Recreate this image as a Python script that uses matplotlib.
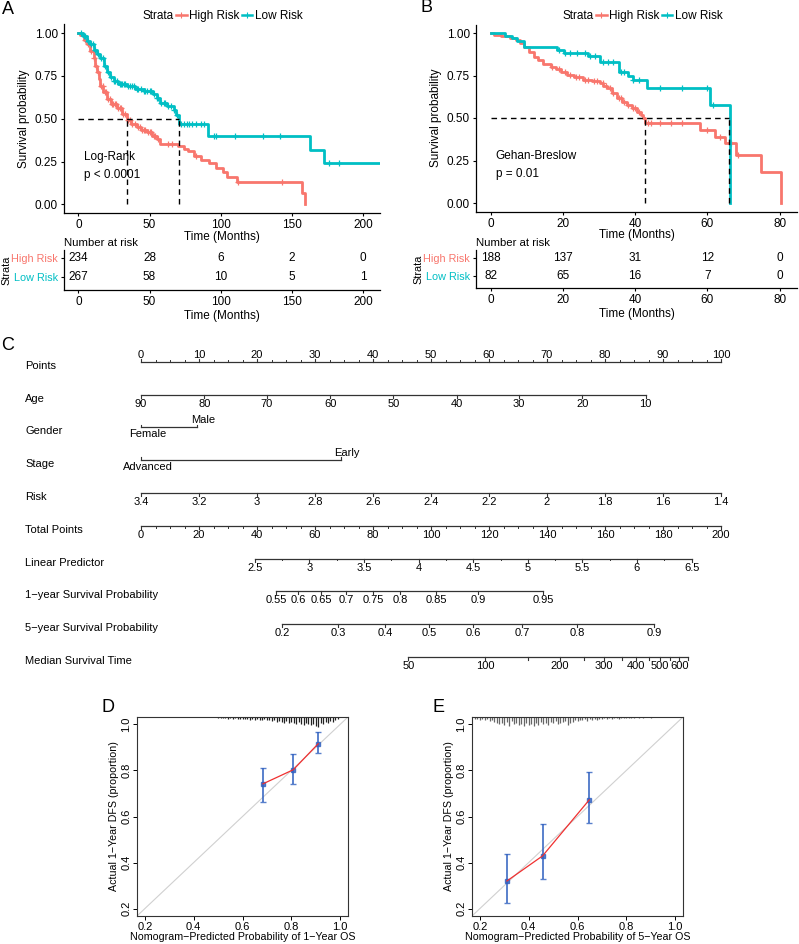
import numpy as np
import matplotlib
matplotlib.use("Agg")
import matplotlib.pyplot as plt
from matplotlib.lines import Line2D

plt.rcParams['font.family'] = ['Liberation Sans', 'DejaVu Sans']
plt.rcParams['font.size'] = 8

RED = '#F8766D'
TEAL = '#00BFC4'

# ---------------- data: panel A (KM, overall) ----------------
a_high_t = [0, 1.4, 4, 6.1, 8.5, 10.8, 12, 13.1, 14.2, 15.4, 17.5, 20.1, 23, 27.2, 31,
            34.2, 37, 41.2, 44, 48.2, 52, 55.2, 57.5, 70, 74, 77, 81, 86, 91.8, 97,
            102, 104.3, 111.4, 157, 159.5]
a_high_s = [1, 0.99, 0.96, 0.934, 0.895, 0.853, 0.81, 0.773, 0.73, 0.693, 0.655, 0.613,
            0.585, 0.562, 0.53, 0.495, 0.47, 0.452, 0.435, 0.422, 0.40, 0.381, 0.351,
            0.342, 0.325, 0.31, 0.281, 0.262, 0.241, 0.215, 0.19, 0.16, 0.131, 0.065, 0.0]
a_high_cens = [3, 5, 7, 9, 11, 12.5, 14, 16, 17, 18.5, 19.5, 21, 22, 23.5, 24.5, 25.5,
               26.5, 28, 29, 30, 31.5, 33, 35, 36, 38, 39.5, 42, 43, 45, 46, 47, 49, 50,
               51, 53, 54, 56, 63, 66, 83, 112, 143]
a_low_t = [0, 3, 6, 8.4, 11, 13, 15.4, 18, 20.1, 22, 24.8, 28, 34.2, 40, 45.8, 52.8, 55,
           57.5, 62, 66.9, 68.5, 70.4, 91.4, 162.8, 172.6, 212]
a_low_s = [1, 0.98, 0.955, 0.934, 0.90, 0.875, 0.853, 0.81, 0.773, 0.745, 0.723, 0.705,
           0.693, 0.675, 0.663, 0.643, 0.62, 0.592, 0.575, 0.552, 0.52, 0.472, 0.402,
           0.32, 0.241, 0.241]
a_low_cens = [2, 4, 5, 7, 9, 10, 12, 14, 16, 17, 19, 21, 23, 25, 26, 27, 29, 30, 31, 32,
              33, 35, 36, 38, 39, 41, 42, 44, 46, 47, 48, 50, 51, 53, 55, 56, 58, 60, 61,
              63, 65, 67, 69, 72, 74, 76, 78, 80, 83, 86, 88, 95, 97, 110, 130, 142, 176, 183]
a_medians = [34.2, 70.4]
a_risk_times = [0, 50, 100, 150, 200]
a_risk_high = [234, 28, 6, 2, 0]
a_risk_low = [267, 58, 10, 5, 1]

# ---------------- data: panel B (KM, validation) ----------------
b_high_t = [0, 1, 2.8, 5.5, 7, 8, 9.2, 10.5, 11.9, 13, 14.5, 16.6, 18, 19.5, 21.1, 23,
            25.7, 28, 30.3, 31.2, 32.2, 33.5, 35, 36.5, 37.7, 39, 40.5, 41.5, 42.3, 42.7,
            57.9, 62.1, 64.8, 68, 74.9, 80.5]
b_high_s = [1, 0.99, 0.98, 0.97, 0.96, 0.94, 0.92, 0.89, 0.86, 0.84, 0.82, 0.80, 0.79,
            0.77, 0.753, 0.74, 0.724, 0.715, 0.704, 0.69, 0.675, 0.65, 0.616, 0.595,
            0.576, 0.56, 0.537, 0.515, 0.498, 0.469, 0.43, 0.39, 0.351, 0.282, 0.184, 0.0]
b_high_cens = [17, 19, 20.5, 22, 23.5, 24.5, 26, 27, 28.5, 29.5, 31, 32, 33, 34, 35.5,
               36, 37, 38, 39.5, 40, 41, 43.5, 44.5, 47, 50, 53, 60, 63.5, 66.5, 68.5]
b_low_t = [0, 4.1, 6.0, 7.4, 9.2, 18.4, 20.2, 27, 30.3, 35.5, 38, 39.5, 43.2, 60.7, 66.2]
b_low_s = [1, 0.985, 0.97, 0.955, 0.919, 0.90, 0.88, 0.865, 0.83, 0.772, 0.745, 0.724,
           0.675, 0.576, 0.0]
b_low_cens = [19, 20.5, 22, 24, 26, 27.5, 29, 31, 32.5, 34, 36, 37, 39.5, 41, 47, 53,
              60, 61.5]
b_medians = [42.6, 66.0]
b_risk_times = [0, 20, 40, 60, 80]
b_risk_high = [188, 137, 31, 12, 0]
b_risk_low = [82, 65, 16, 7, 0]

# ---------------- data: panel C (nomogram) ----------------
nomo_labels = ['Points', 'Age', 'Gender', 'Stage', 'Risk', 'Total Points',
               'Linear Predictor', '1\u2212year Survival Probability',
               '5\u2212year Survival Probability', 'Median Survival Time']
points_ticks = [0, 10, 20, 30, 40, 50, 60, 70, 80, 90, 100]
age_ticks = [90, 80, 70, 60, 50, 40, 30, 20, 10]
age_points = [0, 10.9, 21.7, 32.6, 43.5, 54.4, 65.2, 76.1, 87.0]
gender_levels = ['Female', 'Male']
gender_points = [0, 9.7]
stage_levels = ['Advanced', 'Early']
stage_points = [0, 34.5]
risk_ticks = [3.4, 3.2, 3, 2.8, 2.6, 2.4, 2.2, 2, 1.8, 1.6, 1.4]
risk_points = [0, 10, 20, 30, 40, 50, 60, 70, 80, 90, 100]
total_ticks = [0, 20, 40, 60, 80, 100, 120, 140, 160, 180, 200]
lp_ticks = [2.5, 3, 3.5, 4, 4.5, 5, 5.5, 6, 6.5]
lp_total = [39.3, 58.1, 76.9, 95.8, 114.6, 133.4, 152.2, 171.0, 189.9]
surv1_ticks = [0.55, 0.6, 0.65, 0.7, 0.75, 0.8, 0.85, 0.9, 0.95]
surv1_total = [46.6, 54.1, 62.1, 70.7, 80.0, 89.3, 101.7, 116.2, 138.6]
surv5_ticks = [0.2, 0.3, 0.4, 0.5, 0.6, 0.7, 0.8, 0.9]
surv5_total = [48.6, 67.9, 84.1, 99.3, 114.5, 131.4, 150.3, 176.9]
med_ticks = [50, 100, 150, 200, 250, 300, 350, 400, 450, 500, 550, 600, 650]
med_total = [92.2, 118.6, 133.6, 144.5, 152.9, 159.7, 165.8, 170.6, 175.0, 178.8,
             182.4, 185.6, 188.7]
med_labelled = [50, 100, 200, 300, 400, 500, 600]

# ---------------- data: panels D/E (calibration) ----------------
d_pred = [0.684, 0.808, 0.910]
d_obs = [0.742, 0.803, 0.916]
d_lo = [0.665, 0.741, 0.875]
d_hi = [0.811, 0.872, 0.966]
d_rug_start = 0.50
d_rug = [1, 1, 1, 1, 2, 1, 2, 1, 2, 2, 2, 2, 2, 3, 2, 3, 2, 3, 3, 2, 3,
         3, 4, 3, 5, 4, 5, 6, 4, 6, 5, 6, 7, 5, 7, 8, 6, 7, 8, 7, 9,
         10, 6, 7, 5, 6, 4, 5, 3, 2]
e_pred = [0.311, 0.457, 0.648]
e_obs = [0.320, 0.429, 0.672]
e_lo = [0.224, 0.329, 0.571]
e_hi = [0.437, 0.568, 0.793]
e_rug_start = 0.18
e_rug = [2, 2, 3, 2, 3, 2, 4, 3, 5, 6, 7, 6, 8, 5, 9, 4, 7, 6, 8, 7, 9, 6, 8, 7, 9,
         6, 8, 5, 7, 6, 8, 5, 6, 4, 7, 6, 5, 4, 8, 6, 5, 3, 4, 3, 3, 2, 4, 2, 3, 2,
         3, 2, 2, 1, 2, 1, 2, 1, 1, 2, 1, 1, 1, 1, 1, 1, 0, 1, 0, 1, 0, 0, 1]

W, H = 799, 944
fig = plt.figure(figsize=(W / 100, H / 100), dpi=100)


def px_axes(left, top, right, bottom):
    return fig.add_axes([left / W, 1 - bottom / H, (right - left) / W, (bottom - top) / H])


def step_at(t, s, x):
    idx = np.searchsorted(t, x, side='right') - 1
    return np.asarray(s)[idx]


def km_panel(ax, tab, curves, xlim, xticks, medians, test_text, text_x,
             risk_times, risk_high, risk_low, legend_x):
    for t, s, cens, col in curves:
        ax.step(t, s, where='post', color=col, lw=2.0, zorder=3)
        ax.plot(cens, step_at(t, s, cens), '+', color=col, ms=5, mew=0.9, zorder=3)
    ax.plot([0, max(medians)], [0.5, 0.5], '--', color='black', lw=1.0,
            dashes=(4, 3), zorder=4)
    for m in medians:
        ax.plot([m, m], [0, 0.5], '--', color='black', lw=1.0, dashes=(4, 3), zorder=4)
    ax.text(text_x, 0.277, test_text[0], fontsize=8.5, va='center')
    ax.text(text_x, 0.17, test_text[1], fontsize=8.5, va='center')
    ax.set_xlim(*xlim)
    ax.set_ylim(-0.05, 1.05)
    ax.set_xticks(xticks)
    ax.set_yticks([0, 0.25, 0.5, 0.75, 1.0])
    ax.set_yticklabels(['0.00', '0.25', '0.50', '0.75', '1.00'])
    ax.set_ylabel('Survival probability', fontsize=8.5, labelpad=3.5)
    ax.set_xlabel('Time (Months)', fontsize=8.5, labelpad=-0.5)
    for a in (ax, tab):
        a.spines['top'].set_visible(False)
        a.spines['right'].set_visible(False)
        a.spines['left'].set_linewidth(0.9)
        a.spines['bottom'].set_linewidth(0.9)
        a.tick_params(length=2.5, width=0.8, labelsize=8.5, pad=2)
    handles = [Line2D([], [], alpha=0),
               Line2D([], [], color=RED, lw=1.8, marker='+', ms=4, mew=0.8),
               Line2D([], [], color=TEAL, lw=1.8, marker='+', ms=4, mew=0.8)]
    ax.legend(handles, ['Strata', 'High Risk', 'Low Risk'], ncol=3, frameon=False,
              loc='center', bbox_to_anchor=(legend_x / W, 1 - 16 / H),
              bbox_transform=fig.transFigure, handlelength=0.9, handletextpad=0.2,
              columnspacing=0.2, fontsize=8.5, borderpad=0)

    # risk table
    for x, n in zip(risk_times, risk_high):
        tab.text(x, 1, str(n), ha='center', va='center', fontsize=8.5)
    for x, n in zip(risk_times, risk_low):
        tab.text(x, 0, str(n), ha='center', va='center', fontsize=8.5)
    tab.set_xlim(*xlim)
    tab.set_ylim(-0.68, 1.42)
    tab.set_xticks(xticks)
    tab.set_yticks([1, 0])
    tab.set_yticklabels(['High Risk', 'Low Risk'])
    for lab, col in zip(tab.get_yticklabels(), [RED, TEAL]):
        lab.set_color(col)
        lab.set_fontsize(7.8)
    tab.set_ylabel('Strata', fontsize=7.8, labelpad=0)
    tab.set_xlabel('Time (Months)', fontsize=8.5, labelpad=1)
    tab.set_title('Number at risk', fontsize=8.2, loc='left', pad=3, x=0.0)


axA = px_axes(64, 24.5, 380, 213)
tabA = px_axes(64, 250, 380, 290)
km_panel(axA, tabA,
         [(a_high_t, a_high_s, a_high_cens, RED), (a_low_t, a_low_s, a_low_cens, TEAL)],
         (-10.1, 212), [0, 50, 100, 150, 200], a_medians, ['Log-Rank', 'p < 0.0001'], 4.3,
         a_risk_times, a_risk_high, a_risk_low, 216)

axB = px_axes(476, 24.5, 797, 211.5)
tabB = px_axes(476, 250, 797, 288)
km_panel(axB, tabB,
         [(b_high_t, b_high_s, b_high_cens, RED), (b_low_t, b_low_s, b_low_cens, TEAL)],
         (-4.04, 84.8), [0, 20, 40, 60, 80], b_medians, ['Gehan-Breslow', 'p = 0.01'], 1.4,
         b_risk_times, b_risk_high, b_risk_low, 636)

# ---------------- panel C: nomogram ----------------
axC = px_axes(0, 335, W, 680)
axC.set_xlim(-141 / 5.8, (W - 141) / 5.8)
axC.set_ylim(9.70, -0.82)
axC.axis('off')

LC = '#333333'
TICK = 0.09
NFS = 8


def nomo_row(row, pos, labels, above=False, minor=None):
    pos = np.asarray(pos, dtype=float)
    axC.plot([pos.min(), pos.max()], [row, row], color=LC, lw=0.9)
    d = -TICK if above else TICK
    for p in pos:
        axC.plot([p, p], [row, row + d], color=LC, lw=0.8)
    if minor is not None:
        for p in minor:
            axC.plot([p, p], [row, row + d * 0.6], color=LC, lw=0.7)
    for p, lab in zip(pos, labels):
        if lab is None:
            continue
        if above:
            axC.text(p, row - 0.06, lab, ha='center', va='bottom', fontsize=NFS)
        else:
            axC.text(p, row + 0.12, lab, ha='center', va='top', fontsize=NFS)


def fmt(v):
    return ('%g' % v)


for i, lab in enumerate(nomo_labels):
    axC.text(-20.0, i + 0.12, lab, ha='left', va='center', fontsize=NFS)

nomo_row(0, points_ticks, [fmt(v) for v in points_ticks], above=True,
         minor=np.arange(0, 100.1, 2.5))
nomo_row(1, age_points, [fmt(v) for v in age_ticks])
# gender and stage: labels alternate above/below
for row, pts, levels in [(2, gender_points, gender_levels), (3, stage_points, stage_levels)]:
    axC.plot([pts[0], pts[1]], [row, row], color=LC, lw=0.9)
    for p in pts:
        axC.plot([p, p], [row, row - TICK], color=LC, lw=0.8)
    axC.text(pts[0] + 1.2, row + 0.05, levels[0], ha='center', va='top', fontsize=NFS)
    axC.text(pts[1] + 1.0, row - 0.08, levels[1], ha='center', va='bottom', fontsize=NFS)
nomo_row(4, risk_points, [fmt(v) for v in risk_ticks])
nomo_row(5, np.array(total_ticks) / 2, [fmt(v) for v in total_ticks],
         minor=np.arange(0, 200.1, 5) / 2)
nomo_row(6, np.array(lp_total) / 2, [fmt(v) for v in lp_ticks],
         minor=(np.array(lp_total[:-1]) + np.array(lp_total[1:])) / 4)
nomo_row(7, np.array(surv1_total) / 2, [fmt(v) for v in surv1_ticks])
nomo_row(8, np.array(surv5_total) / 2, [fmt(v) for v in surv5_ticks])
nomo_row(9, np.array(med_total) / 2,
         [fmt(v) if v in med_labelled else None for v in med_ticks])

# ---------------- panels D/E: calibration ----------------
BLUE = '#3060c0'


def calib_panel(ax, pred, obs, lo, hi, rug_start, rug, rug_col, xlab):
    lim = (0.168, 1.032)
    ax.plot([0, 1.1], [0, 1.1], color='#d0d0d0', lw=0.8, zorder=1)
    ax.plot(pred, obs, color='#f03030', lw=0.9, zorder=3)
    ax.errorbar(pred, obs, yerr=[np.subtract(obs, lo), np.subtract(hi, obs)], fmt='s',
                ms=2.2, color=BLUE, ecolor=BLUE, elinewidth=1.4, capsize=2, capthick=1.0,
                alpha=0.8, zorder=2)
    xs = rug_start + 0.01 * np.arange(len(rug))
    ax.vlines(xs, lim[1] - np.array(rug) * 0.0045, lim[1], color=rug_col, lw=0.9)
    ax.set_xlim(*lim)
    ax.set_ylim(*lim)
    ticks = [0.2, 0.4, 0.6, 0.8, 1.0]
    ax.set_xticks(ticks)
    ax.set_yticks(ticks)
    ax.set_xticklabels(['0.2', '0.4', '0.6', '0.8', '1.0'])
    ax.set_yticklabels(['0.2', '0.4', '0.6', '0.8', '1.0'], rotation=90, va='center')
    ax.tick_params(length=3, width=0.7, labelsize=8, pad=1)
    for s in ax.spines.values():
        s.set_linewidth(0.8)
        s.set_color('#333333')
    ax.set_xlabel(xlab, fontsize=7.7, labelpad=0)
    ax.set_ylabel('Actual 1\u2212Year DFS (proportion)', fontsize=7.7, labelpad=1.5)


axD = px_axes(137, 717, 348, 916)
calib_panel(axD, d_pred, d_obs, d_lo, d_hi, d_rug_start, d_rug, '#222222',
            'Nomogram\u2212Predicted Probability of 1\u2212Year OS')
axE = px_axes(472, 717, 683, 916)
calib_panel(axE, e_pred, e_obs, e_lo, e_hi, e_rug_start, e_rug, '#666666',
            'Nomogram\u2212Predicted Probability of 5\u2212Year OS')

# panel letters
for lab, x, y in [('A', 8, 10), ('B', 427, 8), ('C', 8, 345), ('D', 108, 707), ('E', 438, 707)]:
    fig.text(x / W, 1 - y / H, lab, fontsize=13, ha='center', va='center')

fig.savefig('out.png', dpi=100)
